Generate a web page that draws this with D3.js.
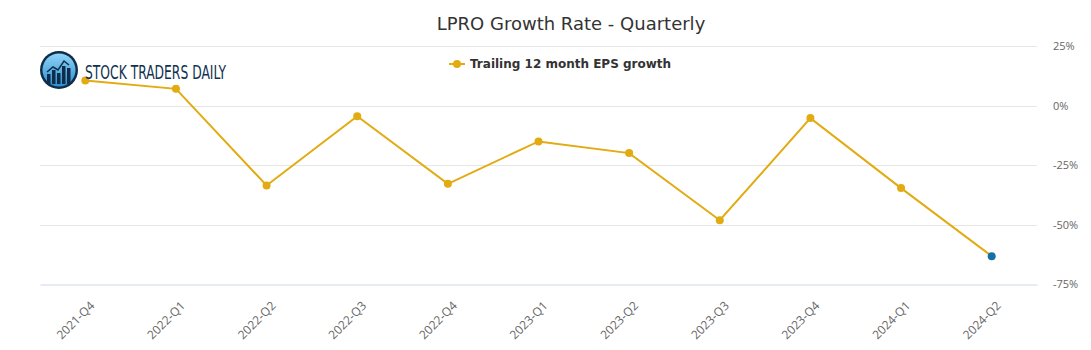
<!DOCTYPE html>
<html>
<head>
<meta charset="utf-8">
<script src="https://cdn.jsdelivr.net/npm/d3@7"></script>
<style>
  body { margin: 0; background: #fff; }
  svg { font-family: "DejaVu Sans", "Lucida Grande", sans-serif; }
</style>
</head>
<body>
<div id="chart"></div>
<script>
var quarters = ["2021-Q4", "2022-Q1", "2022-Q2", "2022-Q3", "2022-Q4", "2023-Q1",
                "2023-Q2", "2023-Q3", "2023-Q4", "2024-Q1", "2024-Q2"];
var epsGrowth = [10.5, 7.0, -33.6, -4.5, -32.9, -15.1, -20.0, -48.2, -5.3, -34.7, -63.3];
var yTicks = [25, 0, -25, -50, -75];

var width = 1091, height = 350,
    margin = { left: 40, right: 54, top: 46, bottom: 66 };

var lineColor = "#e2ab12", lastColor = "#1570a6";

function translate(x, y) { return "translate(" + x + "," + y + ")"; }

var svg = d3.select("#chart").append("svg")
    .attr("width", width)
    .attr("height", height);

var ww = width - margin.left - margin.right,
    hh = height - margin.top - margin.bottom;

var xScale = d3.scaleBand().domain(quarters).range([0, ww]);
var yScale = d3.scaleLinear().domain([-75, 25]).range([hh, 0]);

var g = svg.append("g").attr("transform", translate(margin.left, margin.top));

// grid
g.selectAll(".grid").data(yTicks.filter(function(d) { return d !== -75; }))
  .enter().append("line")
    .attr("x1", 0).attr("x2", ww)
    .attr("y1", function(d) { return Math.round(yScale(d)) + 0.5; })
    .attr("y2", function(d) { return Math.round(yScale(d)) + 0.5; })
    .attr("stroke", "#e6e6e6");

// x axis
var xAxis = d3.axisBottom(xScale).tickSize(0).tickPadding(0);
var xg = g.append("g").attr("transform", translate(0, Math.round(hh) + 0.5))
    .attr("font-family", "'Open Sans', sans-serif").attr("font-size", 12)
    .call(xAxis);
xg.attr("font-family", "'Open Sans', sans-serif").attr("font-size", 12);
xg.select(".domain").attr("stroke", "#ccd6eb");
xg.selectAll("text")
    .attr("fill", "#666")
    .style("text-anchor", "end")
    .attr("transform", "translate(7,19) rotate(-45)")
    .attr("dy", "0.35em")
    .attr("y", 0);

// y axis on the right
var yAxis = d3.axisRight(yScale).tickValues(yTicks).tickSize(0).tickPadding(16)
    .tickFormat(function(d) { return d + "%"; });
var yg = g.append("g").attr("transform", translate(ww, 0)).call(yAxis);
yg.attr("font-family", "'Open Sans', sans-serif").attr("font-size", 11);
yg.select(".domain").remove();
yg.selectAll("text").attr("fill", "#666").attr("dy", "0.35em");

// line
var line = d3.line()
    .x(function(d, i) { return xScale(quarters[i]) + xScale.bandwidth() / 2; })
    .y(function(d) { return yScale(d); });

g.append("path").datum(epsGrowth)
    .attr("d", line)
    .attr("fill", "none")
    .attr("stroke", lineColor)
    .attr("stroke-width", 2);

g.selectAll(".pt").data(epsGrowth).enter().append("circle")
    .attr("cx", function(d, i) { return xScale(quarters[i]) + xScale.bandwidth() / 2; })
    .attr("cy", function(d) { return yScale(d); })
    .attr("r", 4)
    .attr("fill", function(d, i) { return i === epsGrowth.length - 1 ? lastColor : lineColor; });

// title
svg.append("text")
    .attr("x", 571).attr("y", 30)
    .attr("text-anchor", "middle")
    .attr("fill", "#333")
    .style("font-size", "18px")
    .text("LPRO Growth Rate - Quarterly");

// legend
var lg = svg.append("g").attr("transform", translate(449, 64));
lg.append("line").attr("x1", 0).attr("x2", 16).attr("y1", 0).attr("y2", 0)
    .attr("stroke", lineColor).attr("stroke-width", 2);
lg.append("circle").attr("cx", 8).attr("cy", 0).attr("r", 4).attr("fill", lineColor);
lg.append("text").attr("x", 21).attr("y", 4)
    .attr("fill", "#333").style("font-size", "12px").style("font-weight", "bold")
    .text("Trailing 12 month EPS growth");

// logo
var logo = svg.append("g").attr("transform", translate(59, 70));
var grad = svg.append("defs").append("linearGradient").attr("id", "lg1")
    .attr("x1", 0).attr("y1", 0).attr("x2", 0).attr("y2", 1);
grad.append("stop").attr("offset", "0%").attr("stop-color", "#8fd3f7");
grad.append("stop").attr("offset", "100%").attr("stop-color", "#2c8fd0");
logo.append("circle").attr("r", 19).attr("fill", "#0f2d48");
logo.append("circle").attr("r", 16.5).attr("fill", "url(#lg1)");
[[-12, 4, 6], [-7, 0, 10], [-2, 3, 7], [3, -4, 14], [8, -2, 12]].forEach(function(b) {
  logo.append("rect").attr("x", b[0]).attr("y", b[1]).attr("width", 3.5).attr("height", b[2] + 4)
      .attr("fill", "#0f2d48");
});
logo.append("polyline").attr("points", "-12,2 -6,-3 -1,0 5,-9 10,-5")
    .attr("fill", "none").attr("stroke", "#0f2d48").attr("stroke-width", 1.5);
svg.append("text").attr("x", 85).attr("y", 79)
    .attr("fill", "#10314f")
    .attr("textLength", 141).attr("lengthAdjust", "spacingAndGlyphs")
    .style("font-family", "'Liberation Sans Narrow', 'DejaVu Sans Condensed', sans-serif")
    .style("font-size", "20px")
    .text("STOCK TRADERS DAILY");
</script>
</body>
</html>
